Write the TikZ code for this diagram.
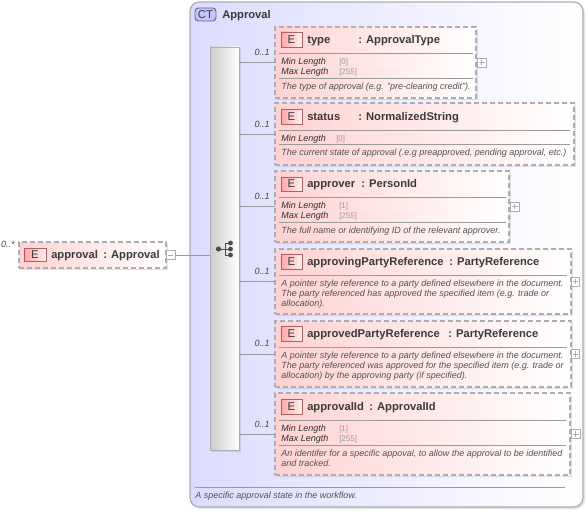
\documentclass[tikz,border=0pt]{standalone}
\usepackage{fontspec}
\setmainfont{Liberation Sans}
\usepackage{tikz}
\usetikzlibrary{calc,fit,shadows}
\definecolor{edgegray}{HTML}{ACACB4}
\definecolor{linegray}{HTML}{9A9A9A}
\definecolor{titletext}{HTML}{3A3A3A}
\definecolor{valtext}{HTML}{9A9A9A}
\definecolor{elempink}{HTML}{FFD2D2}
\definecolor{ctblue}{HTML}{DCDCFF}
\definecolor{badgered}{HTML}{A86060}
\tikzset{
  softshadow/.style={drop shadow={shadow xshift=1.5pt,shadow yshift=-1.5pt,opacity=0.18,fill=black!60}},
  elembox/.style={draw=edgegray,line width=0.85pt,dash pattern=on 4pt off 2pt,left color=elempink,right color=white,inner sep=0pt,outer sep=0pt,softshadow},
  typebox/.style={draw=edgegray,line width=0.9pt,rounded corners=7pt,left color=ctblue,right color=white,inner sep=0pt,outer sep=0pt,softshadow},
  seqbox/.style={draw=edgegray,line width=0.7pt,left color=black!20,right color=white,inner sep=0pt,outer sep=0pt,softshadow},
  badge/.style={draw=badgered,line width=0.7pt,left color=red!35!white,right color=red!5!white,inner sep=0pt,outer sep=0pt},
  ctbadge/.style={draw=black!60,line width=0.7pt,rounded corners=2.5pt,fill=ctblue!80!blue!75!white,inner sep=0pt,outer sep=0pt},
  marktext/.style={inner sep=0pt,font=\fontsize{8.5pt}{10pt}\selectfont,text=titletext},
  titlelabel/.style={anchor=west,inner sep=0pt,yshift=-1pt,text height=6.1pt,text depth=1.8pt,font=\bfseries\fontsize{8.4pt}{10pt}\selectfont,text=titletext},
  notelabel/.style={anchor=west,inner sep=0pt,yshift=-0.6pt,text height=5pt,text depth=1.4pt,font=\itshape\fontsize{6.75pt}{7.5pt}\selectfont,text=black!68},
  factlabel/.style={anchor=west,inner sep=0pt,yshift=-0.6pt,text height=5pt,text depth=1.4pt,font=\itshape\fontsize{6.75pt}{7.5pt}\selectfont,text=black!82},
  vallabel/.style={anchor=west,inner sep=0pt,yshift=-0.6pt,text height=5pt,text depth=1.4pt,font=\fontsize{6pt}{7.5pt}\selectfont,text=valtext},
  occlabel/.style={anchor=east,inner sep=0pt,yshift=-0.6pt,text height=5pt,text depth=1.4pt,font=\itshape\fontsize{6.75pt}{7.5pt}\selectfont,text=black!72},
  toggle/.style={draw=edgegray,line width=0.5pt,fill=white,minimum size=6.6pt,inner sep=0pt,outer sep=0pt},
  sepline/.style={draw=linegray,line width=0.65pt},
  conn/.style={draw=linegray,line width=0.6pt}
}
\begin{document}
\begin{tikzpicture}[x=0.75pt,y=-0.75pt]
  \useasboundingbox (0,0) rectangle (588,510);
  % complex type frame
  \node[typebox,fit={(190,2) (583,507)}] (frame) {};
  \node[ctbadge,fit={(195,8) (216,21)}] (ctmark) {};
  \node[marktext] at (ctmark.center) (cttext) {CT};
  \node[titlelabel] at (222,14) (cttitle) {Approval};
  \draw[sepline] (195,487) -- (565,487);
  \node[notelabel] at (195,495) (ctnote) {A specific approval state in the workflow.};

  % sequence bar
  \node[seqbox,fit={(210,47) (239,450)}] (seqbar) {};
  \fill[black!70] (218.5,249) circle (2.6);
  \draw[black!70,line width=0.7pt] (218.5,249) -- (230.5,249) (225,243) -- (225,255) (225,243) -- (230.5,243) (225,255) -- (230.5,255);
  \foreach \dy in {243,249,255}
    \fill[black!70] (230.5,\dy) circle (2.4);

  % root element
  \node[elembox,fit={(19,242) (166,268)}] (approval) {};
  \node[badge,fit={(24,248) (46,261)}] (approvalmark) {};
  \node[marktext] at (approvalmark.center) (approvale) {E};
  \node[titlelabel] at (51,254) (approvalname) {approval};
  \node[titlelabel] at (103,254) (approvaltype) {: Approval};
  \node[occlabel] at (15,244) (approvalocc) {0..*};
  \node[toggle] at (170.5,255) (approvaltoggle) {};
  \draw[edgegray,line width=0.5pt] (168,255) -- (173,255);
  \draw[conn] (approvaltoggle.east) -- (approvaltoggle.east -| seqbar.west);

  % type
  \node[elembox,fit={(275,27) (476,98)}] (typeel) {};
  \node[badge,fit={(281,32) (302,47)}] (typemark) {};
  \node[marktext] at (typemark.center) (typee) {E};
  \node[titlelabel] at (307,39) (typename) {type};
  \node[titlelabel] at (358,39) (typetype) {: ApprovalType};
  \draw[sepline] (279,53) -- (473,53);
  \node[factlabel] at (281,61) (typemin) {Min Length};
  \node[vallabel] at (339,61) (typeminval) {[0]};
  \node[factlabel] at (281,71) (typemax) {Max Length};
  \node[vallabel] at (339,71) (typemaxval) {[255]};
  \draw[sepline] (279,78) -- (473,78);
  \node[notelabel] at (281,86) (typenote) {The type of approval (e.g. "pre-clearing credit").};
  \node[occlabel] at (270,52) (typeocc) {0..1};
  \node[toggle,right=1pt] at (typeel.east) (typetoggle) {};
  \draw[conn] (typeel.west -| seqbar.east) -- (typeel.west);

  % status
  \node[elembox,fit={(275,103) (574,165)}] (statusel) {};
  \node[badge,fit={(281,109) (302,124)}] (statusmark) {};
  \node[marktext] at (statusmark.center) (statuse) {E};
  \node[titlelabel] at (307,116) (statusname) {status};
  \node[titlelabel] at (358,116) (statustype) {: NormalizedString};
  \draw[sepline] (279,130) -- (570,130);
  \node[factlabel] at (281,138) (statusmin) {Min Length};
  \node[vallabel] at (336,138) (statusminval) {[0]};
  \draw[sepline] (279,144) -- (570,144);
  \node[notelabel] at (281,152) (statusnote) {The current state of approval (.e.g preapproved, pending approval, etc.)};
  \node[occlabel] at (270,124) (statusocc) {0..1};
  \draw[conn] (statusel.west -| seqbar.east) -- (statusel.west);

  % approver
  \node[elembox,fit={(275,171) (509,242)}] (approverel) {};
  \node[badge,fit={(281,177) (302,191)}] (approvermark) {};
  \node[marktext] at (approvermark.center) (approvere) {E};
  \node[titlelabel] at (307,183) (approvername) {approver};
  \node[titlelabel] at (361,183) (approvertype) {: PersonId};
  \draw[sepline] (279,197) -- (506,197);
  \node[factlabel] at (281,205) (approvermin) {Min Length};
  \node[vallabel] at (339,205) (approverminval) {[1]};
  \node[factlabel] at (281,215) (approvermax) {Max Length};
  \node[vallabel] at (339,215) (approvermaxval) {[255]};
  \draw[sepline] (279,222) -- (506,222);
  \node[notelabel] at (281,230) (approvernote) {The full name or identifying ID of the relevant approver.};
  \node[occlabel] at (270,196) (approverocc) {0..1};
  \node[toggle,right=1pt] at (approverel.east) (approvertoggle) {};
  \draw[conn] (approverel.west -| seqbar.east) -- (approverel.west);

  % approvingPartyReference
  \node[elembox,fit={(275,249) (571,314)}] (approvingel) {};
  \node[badge,fit={(281,254) (302,269)}] (approvingmark) {};
  \node[marktext] at (approvingmark.center) (approvinge) {E};
  \node[titlelabel] at (307,261) (approvingname) {approvingPartyReference};
  \node[titlelabel] at (449,261) (approvingtype) {: PartyReference};
  \draw[sepline] (279,275) -- (567,275);
  \node[notelabel] at (281,283) (approvingnoteA) {A pointer style reference to a party defined elsewhere in the document.};
  \node[notelabel] at (281,293) (approvingnoteB) {The party referenced has approved the specified item (e.g. trade or};
  \node[notelabel] at (281,303) (approvingnoteC) {allocation).};
  \node[occlabel] at (270,271) (approvingocc) {0..1};
  \node[toggle,right=0pt] at (approvingel.east) (approvingtoggle) {};
  \draw[conn] (approvingel.west -| seqbar.east) -- (approvingel.west);

  % approvedPartyReference
  \node[elembox,fit={(275,321) (571,387)}] (approvedel) {};
  \node[badge,fit={(281,326) (302,341)}] (approvedmark) {};
  \node[marktext] at (approvedmark.center) (approvede) {E};
  \node[titlelabel] at (307,333) (approvedname) {approvedPartyReference};
  \node[titlelabel] at (448,333) (approvedtype) {: PartyReference};
  \draw[sepline] (279,347) -- (567,347);
  \node[notelabel] at (281,355) (approvednoteA) {A pointer style reference to a party defined elsewhere in the document.};
  \node[notelabel] at (281,365) (approvednoteB) {The party referenced was approved for the specified item (e.g. trade or};
  \node[notelabel] at (281,375) (approvednoteC) {allocation) by the approving party (if specified).};
  \node[occlabel] at (270,343) (approvedocc) {0..1};
  \node[toggle,right=0pt] at (approvedel.east) (approvedtoggle) {};
  \draw[conn] (approvedel.west -| seqbar.east) -- (approvedel.west);

  % approvalId
  \node[elembox,fit={(275,393) (570,475)}] (approvalidel) {};
  \node[badge,fit={(281,399) (302,414)}] (approvalidmark) {};
  \node[marktext] at (approvalidmark.center) (approvalide) {E};
  \node[titlelabel] at (307,406) (approvalidname) {approvalId};
  \node[titlelabel] at (369,406) (approvalidtype) {: ApprovalId};
  \draw[sepline] (279,420) -- (566,420);
  \node[factlabel] at (281,428) (approvalidmin) {Min Length};
  \node[vallabel] at (339,428) (approvalidminval) {[1]};
  \node[factlabel] at (281,438) (approvalidmax) {Max Length};
  \node[vallabel] at (339,438) (approvalidmaxval) {[255]};
  \draw[sepline] (279,445) -- (566,445);
  \node[notelabel] at (281,453) (approvalidnoteA) {An identifer for a specific appoval, to allow the approval to be identified};
  \node[notelabel] at (281,463) (approvalidnoteB) {and tracked.};
  \node[occlabel] at (270,424) (approvalidocc) {0..1};
  \node[toggle,right=1pt] at (approvalidel.east) (approvalidtoggle) {};
  \draw[conn] (approvalidel.west -| seqbar.east) -- (approvalidel.west);

  % plus marks on the collapsed elements
  \foreach \tg in {typetoggle,approvertoggle,approvingtoggle,approvedtoggle,approvalidtoggle}
    \draw[edgegray,line width=0.5pt] ($(\tg.west)+(1.6,0)$) -- ($(\tg.east)+(-1.6,0)$) ($(\tg.north)+(0,1.6)$) -- ($(\tg.south)+(0,-1.6)$);
\end{tikzpicture}
\end{document}
